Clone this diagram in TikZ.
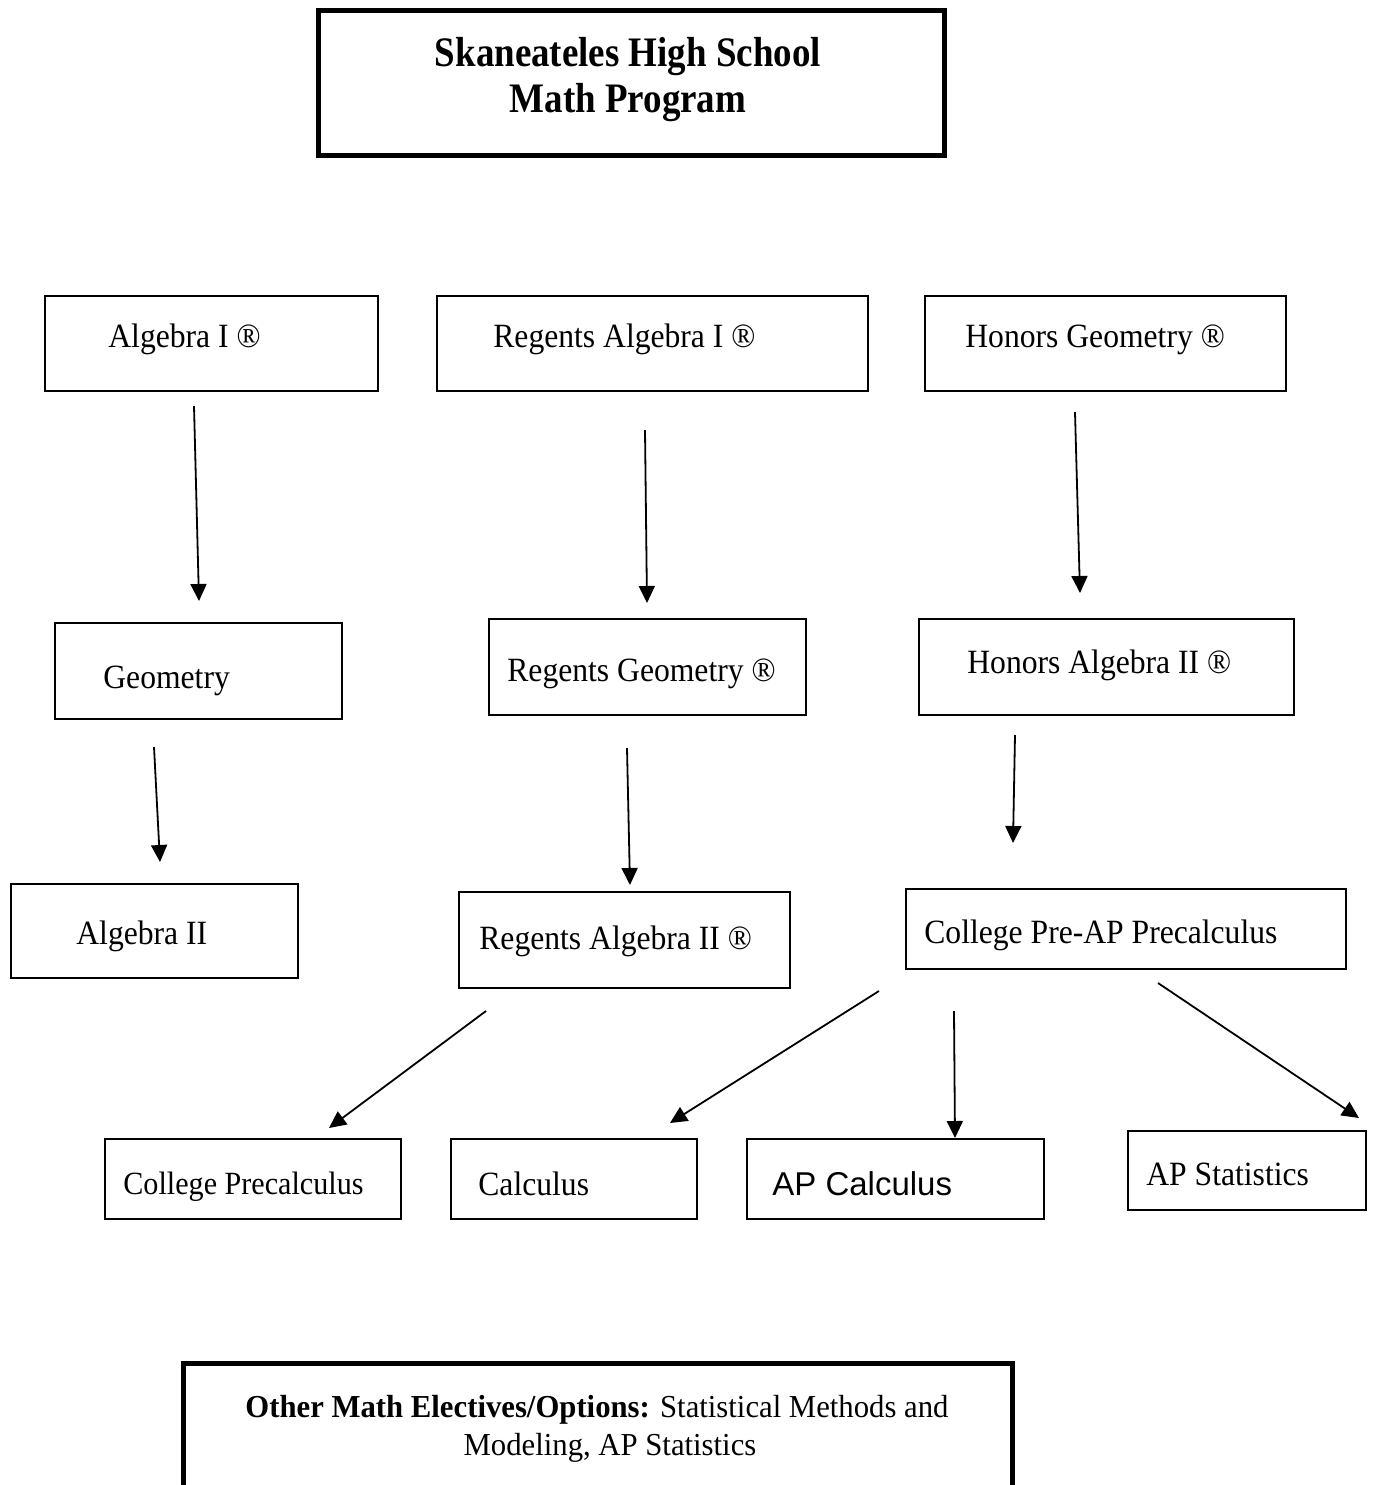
\documentclass[tikz,border=0pt]{standalone}
\usepackage{fontspec}
\setmainfont{Liberation Serif}[FakeStretch=0.93]
\newfontfamily\titlefont{Liberation Serif}[FakeStretch=0.88]
\newfontfamily\notefont{Liberation Serif}[FakeStretch=0.96]
\newfontfamily\sansfont{Liberation Sans}
\usetikzlibrary{fit,arrows.meta}
\begin{document}
\begin{tikzpicture}[x=0.5pt,y=-0.5pt,
  box/.style={draw,line width=1pt,inner sep=0pt},
  heavybox/.style={draw,line width=2.5pt,inner sep=0pt},
  lbl/.style={anchor=base west,inner sep=0pt,font=\fontsize{17}{20}\selectfont},
  sanslbl/.style={anchor=base west,inner sep=0pt,font=\sansfont\fontsize{16.5}{20}\selectfont},
  arr/.style={line width=0.9pt,-{Triangle[length=8.5pt,width=8pt]}}]
\clip (0,0) rectangle (1373,1485);
\fill[white] (0,0) rectangle (1373,1485);
% title
\node[heavybox,fit={(318.5,10.5)(944.5,155.5)}] (title) {};
\node[anchor=base,inner sep=0pt,align=center,font=\titlefont\bfseries\fontsize{21}{23}\selectfont] (titlet) at (628,112) {Skaneateles High School\\Math Program};
% row 1
\node[box,fit={(45,296)(378,391)}] (a1) {};
\node[lbl] (a1t) at (108,347) {Algebra I ®};
\node[box,fit={(437,296)(868,391)}] (ra1) {};
\node[lbl] (ra1t) at (493,347) {Regents Algebra I ®};
\node[box,fit={(925,296)(1286,391)}] (hg) {};
\node[lbl] (hgt) at (965,347) {Honors Geometry ®};
% row 2
\node[box,fit={(55,623)(342,719)}] (g) {};
\node[lbl] (gt) at (103,688) {Geometry};
\node[box,fit={(489,619)(806,715)}] (rg) {};
\node[lbl] (rgt) at (507,681) {Regents Geometry ®};
\node[box,fit={(919,619)(1294,715)}] (ha2) {};
\node[lbl] (ha2t) at (967,673) {Honors Algebra II ®};
% row 3
\node[box,fit={(11,884)(298,978)}] (a2) {};
\node[lbl] (a2t) at (76,944) {Algebra II};
\node[box,fit={(459,892)(790,988)}] (ra2) {};
\node[lbl] (ra2t) at (479,949) {Regents Algebra II ®};
\node[box,fit={(906,889)(1346,969)}] (cpap) {};
\node[lbl] (cpapt) at (924,943) {College Pre-AP Precalculus};
% row 4
\node[box,fit={(105,1139)(401,1219)}] (cp) {};
\node[lbl,font=\fontsize{16.2}{19}\selectfont] (cpt) at (123,1194) {College Precalculus};
\node[box,fit={(451,1139)(697,1219)}] (calc) {};
\node[lbl] (calct) at (478,1195) {Calculus};
\node[box,fit={(747,1139)(1044,1219)}] (apc) {};
\node[sanslbl] (apct) at (772,1195) {AP Calculus};
\node[box,fit={(1128,1131)(1366,1210)}] (aps) {};
\node[lbl] (apst) at (1146,1185) {AP Statistics};
% bottom note
\node[heavybox,fit={(183,1363)(1012,1520)}] (other) {};
\node[anchor=base,inner sep=0pt,align=center,font=\notefont\fontsize{16}{19}\selectfont] (othert) at (597,1455) {\textbf{Other Math Electives/Options:} Statistical Methods and\\\hspace*{13pt}Modeling, AP Statistics};
% arrows
\coordinate (s1) at (194,406); \coordinate (e1) at (199,601);
\coordinate (s2) at (645,430); \coordinate (e2) at (647,603);
\coordinate (s3) at (1075,412); \coordinate (e3) at (1080,593);
\coordinate (s4) at (154,747); \coordinate (e4) at (160,862);
\coordinate (s5) at (627,748); \coordinate (e5) at (630,885);
\coordinate (s6) at (1015,735); \coordinate (e6) at (1013,843);
\coordinate (s7) at (486,1011); \coordinate (e7) at (329,1128);
\coordinate (s8) at (879,991); \coordinate (e8) at (670,1123);
\coordinate (s9) at (954,1011); \coordinate (e9) at (955,1138);
\coordinate (s10) at (1158,983); \coordinate (e10) at (1359,1118);
\foreach \i in {1,...,10} {\draw[arr] (s\i) -- (e\i);}
\end{tikzpicture}
\end{document}
